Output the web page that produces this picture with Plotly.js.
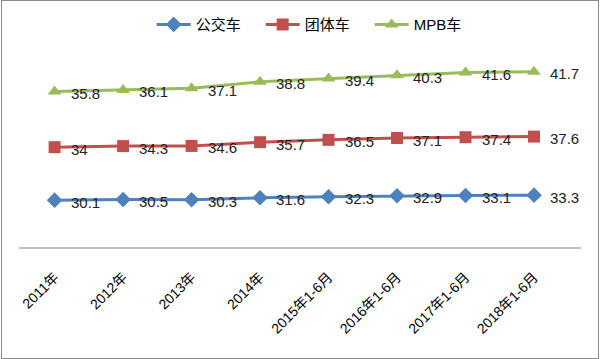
<!DOCTYPE html>
<html>
<head>
<meta charset="utf-8">
<script src="https://cdn.plot.ly/plotly-3.0.1.min.js"></script>
<style>
  html, body { margin: 0; padding: 0; background: #fff; }
  #wrap { position: absolute; left: 1px; top: 0px; width: 598px; height: 359px; box-sizing: border-box; border: 1px solid #8c8c8c; }
  #chart { width: 596px; height: 357px; }
</style>
</head>
<body>
<div id="wrap"><div id="chart"></div></div>
<script>
const categories = ["2011年", "2012年", "2013年", "2014年", "2015年1-6月", "2016年1-6月", "2017年1-6月", "2018年1-6月"];
const busValues = [30.1, 30.5, 30.3, 31.6, 32.3, 32.9, 33.1, 33.3];
const groupValues = [34, 34.3, 34.6, 35.7, 36.5, 37.1, 37.4, 37.6];
const mpbValues = [35.8, 36.1, 37.1, 38.8, 39.4, 40.3, 41.6, 41.7];

const fontFam = "Liberation Sans, 'Noto Sans CJK SC', sans-serif";
const seriesList = [
  { name: '公交车', vals: busValues, color: '#4F81BD', symbol: 'diamond', size: 12 },
  { name: '团体车', vals: groupValues, color: '#C0504D', symbol: 'square', size: 12 },
  { name: 'MPB车', vals: mpbValues, color: '#9BBB59', symbol: 'triangle-up', size: 12 }
];

const data = seriesList.map(s => ({
  type: 'scatter',
  mode: 'lines+markers',
  name: s.name,
  x: categories,
  y: s.vals,
  stackgroup: 'one',
  fill: 'none',
  line: { color: s.color, width: 3 },
  marker: { color: s.color, symbol: s.symbol, size: s.size },
  cliponaxis: false
}));

// data labels placed at the stacked positions
const annotations = [];
const cum = categories.map(() => 0);
seriesList.forEach(s => {
  s.vals.forEach((v, i) => {
    cum[i] += v;
    annotations.push({
      x: categories[i], y: cum[i], xref: 'x', yref: 'y',
      text: String(v), showarrow: false,
      xanchor: 'left', yanchor: 'middle', xshift: 14, yshift: -2,
      font: { family: fontFam, size: 15, color: '#222' }
    });
  });
});

const layout = {
  width: 596, height: 357,
  margin: { l: 17, r: 17, t: 28, b: 111, autoexpand: false },
  paper_bgcolor: '#fff', plot_bgcolor: '#fff',
  font: { family: fontFam, size: 12, color: '#000' },
  showlegend: true,
  legend: {
    orientation: 'h', x: 0.527, xanchor: 'center', y: 1.02, yanchor: 'middle',
    font: { family: fontFam, size: 15, color: '#000' },
    traceorder: 'normal', itemwidth: 34,
    entrywidth: 60, entrywidthmode: 'pixels'
  },
  annotations: annotations,
  xaxis: {
    type: 'category',
    showgrid: false, zeroline: false,
    showline: true, linecolor: '#bfbfbf', linewidth: 1.5,
    ticks: '', tickangle: -45, ticklabelstandoff: 15,
    tickfont: { family: fontFam, size: 14, color: '#000' },
    automargin: false,
    fixedrange: true
  },
  yaxis: {
    range: [0, 140], visible: false, showgrid: false, zeroline: false, fixedrange: true, automargin: false
  }
};

Plotly.newPlot('chart', data, layout, { displayModeBar: false, staticPlot: true });
</script>
</body>
</html>
